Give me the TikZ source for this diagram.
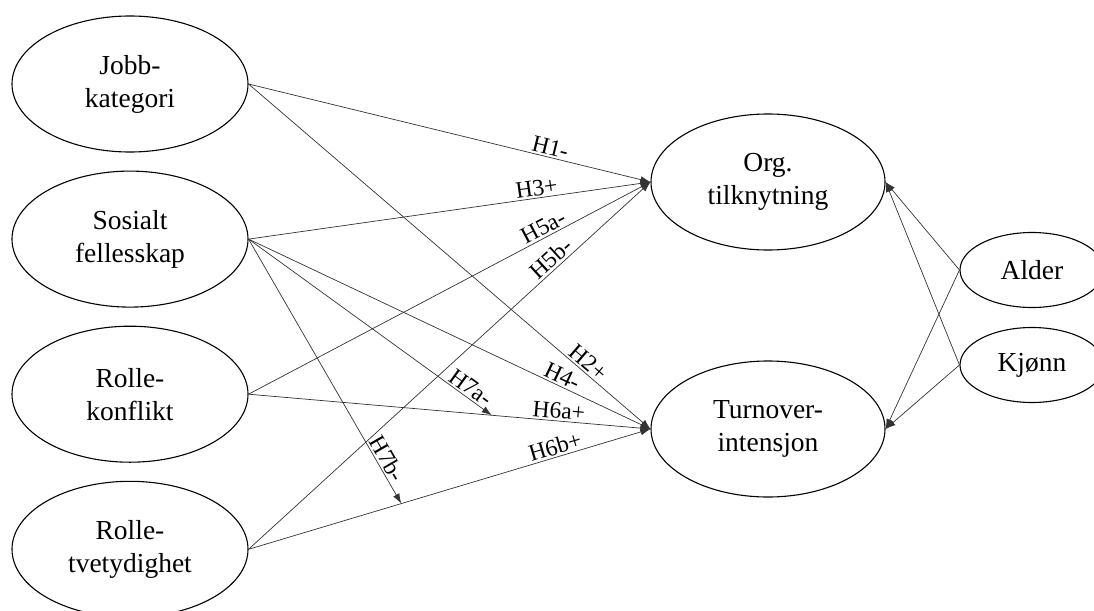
\documentclass[tikz,border=0pt]{standalone}
\usepackage{fontspec}
\setmainfont{Liberation Serif}
\usetikzlibrary{positioning,shapes.geometric,arrows.meta}

\begin{document}
\begin{tikzpicture}[x=1pt, y=-1pt, node distance=18pt,
  latent/.style={draw, ellipse, line width=1.1pt, inner sep=0pt,
    minimum width=236pt, minimum height=136pt, align=center,
    font=\fontsize{27.5}{33}\selectfont},
  ctrl/.style={latent, minimum width=144pt, minimum height=75pt},
  hyp/.style={draw=black!80, line width=0.7pt, -{Latex[length=10pt,width=7pt]}},
  lab/.style={sloped, above, inner sep=2pt, font=\fontsize{23.5}{26}\selectfont}]
\useasboundingbox (0,0) rectangle (1094,610);
\clip (0,0) rectangle (1094,610);

% predictors
\node [latent] (jobb) at (130,84) {Jobb-\\kategori};
\node [latent, below=of jobb] (sos) {Sosialt\\fellesskap};
\node [latent, below=of sos] (konf) {Rolle-\\konflikt};
\node [latent, below=of konf] (tvet) {Rolle-\\tvetydighet};

% outcomes
\node [latent, minimum width=234pt] (org) at (768,182) {Org.\\tilknytning};
\node [latent, minimum width=234pt] (turn) at (768,429) {Turnover-\\intensjon};

% controls
\node [ctrl] (alder) at (1032,270) {Alder};
\node [ctrl] (kjonn) at (1032,365) {Kjønn};

% moderation points
\path (konf.east) -- (turn.west) coordinate [pos=0.605] (h7a);
\path (tvet.east) -- (turn.west) coordinate [pos=0.38] (h7b);

\draw[hyp] (jobb.east) -- (org.west) node [lab, pos=0.745] {H1-};
\draw[hyp] (jobb.east) -- (turn.west) node [lab, pos=0.83] {H2+};
\draw[hyp] (sos.east) -- (org.west) node [lab, pos=0.72] {H3+};
\draw[hyp] (sos.east) -- (turn.west) node [lab, pos=0.77] {H4-};
\draw[hyp] (konf.east) -- (org.west) node [lab, pos=0.745] {H5a-};
\draw[hyp] (tvet.east) -- (org.west) node [lab, pos=0.77] {H5b-};
\draw[hyp] (konf.east) -- (turn.west) node [lab, pos=0.77] {H6a+};
\draw[hyp] (tvet.east) -- (turn.west) node [lab, pos=0.77] {H6b+};
\draw[hyp] (sos.east) -- (h7a) node [lab, pos=0.89] {H7a-};
\draw[hyp] (sos.east) -- (h7b) node [lab, pos=0.85] {H7b-};

\draw[hyp] (alder.west) -- (org.east);
\draw[hyp] (alder.west) -- (turn.east);
\draw[hyp] (kjonn.west) -- (org.east);
\draw[hyp] (kjonn.west) -- (turn.east);
\end{tikzpicture}
\end{document}
